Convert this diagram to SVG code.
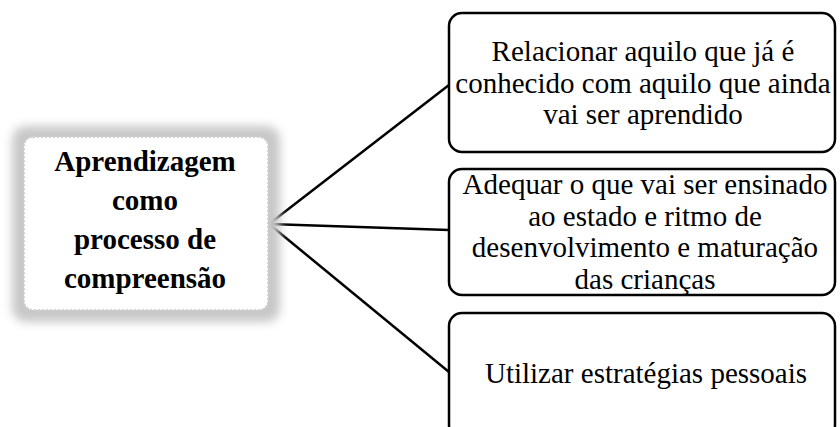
<svg xmlns="http://www.w3.org/2000/svg" width="840" height="427" viewBox="0 0 840 427">
<style>
.box{fill:#fff;stroke:#000;stroke-width:2.5}
.t{font-family:'Liberation Serif','Times New Roman',serif;font-size:29px;fill:#000;text-anchor:middle}
.b{font-family:'Liberation Serif','Times New Roman',serif;font-size:29px;font-weight:bold;fill:#000;text-anchor:middle}
.conn{stroke:#000;stroke-width:2.5;fill:none}
</style>
<defs>
<filter id="glow" x="-20%" y="-20%" width="140%" height="140%">
<feGaussianBlur stdDeviation="5"/>
</filter>
</defs>
<rect width="840" height="427" fill="#fff"/>
<g id="connectors">
<line class="conn" x1="269" y1="224" x2="449" y2="85"/>
<line class="conn" x1="269" y1="224" x2="449" y2="230"/>
<line class="conn" x1="269" y1="224" x2="449" y2="372"/>
</g>
<g id="center">
<rect x="12" y="126" width="268" height="196" rx="14" fill="#c8c8c8" filter="url(#glow)"/>
<rect x="24" y="137" width="244" height="173" rx="9" fill="#fff" stroke="#d0d0d0" stroke-width="2" stroke-dasharray="2 2"/>
<text class="b" x="145" y="171">Aprendizagem</text>
<text class="b" x="145" y="210">como</text>
<text class="b" x="145" y="249">processo de</text>
<text class="b" x="145" y="288">compreensão</text>
</g>
<g id="node1">
<rect class="box" x="449" y="13" width="386" height="139" rx="13"/>
<text class="t" x="643" y="61">Relacionar aquilo que já é</text>
<text class="t" x="643" y="93">conhecido com aquilo que ainda</text>
<text class="t" x="643" y="124">vai ser aprendido</text>
</g>
<g id="node2">
<rect class="box" x="449" y="169" width="386" height="126" rx="13"/>
<text class="t" x="645" y="194">Adequar o que vai ser ensinado</text>
<text class="t" x="645" y="226">ao estado e ritmo de</text>
<text class="t" x="645" y="257">desenvolvimento e maturação</text>
<text class="t" x="645" y="289">das crianças</text>
</g>
<g id="node3">
<rect class="box" x="449" y="313" width="386" height="125" rx="13"/>
<text class="t" x="646" y="383">Utilizar estratégias pessoais</text>
</g>
</svg>
